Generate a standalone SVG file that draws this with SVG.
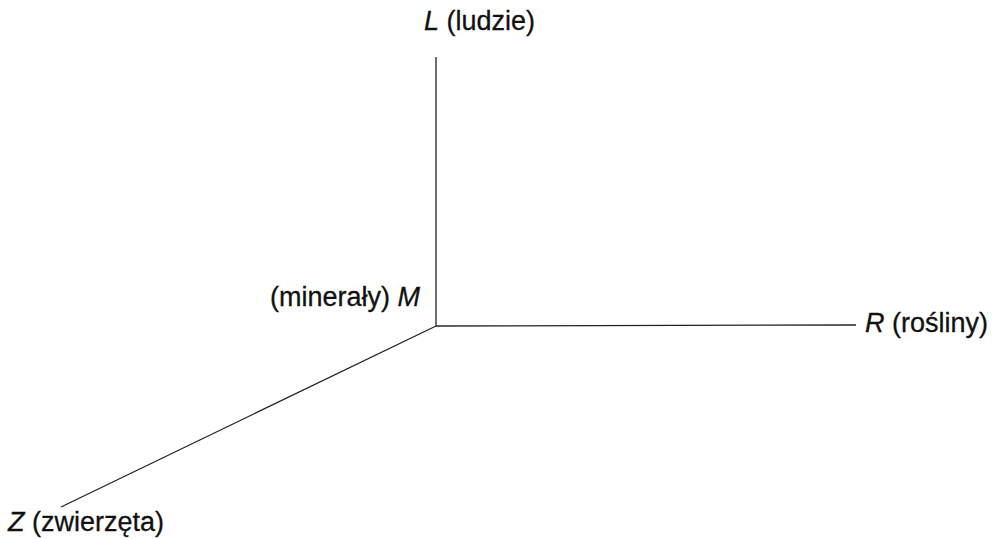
<svg xmlns="http://www.w3.org/2000/svg" width="998" height="539" viewBox="0 0 998 539">
<style>
text{font-family:"Liberation Sans",Arial,sans-serif;font-size:27px;fill:#111;stroke:#111;stroke-width:0.3}
.ax{stroke:#222;stroke-width:1.3;fill:none}
</style>
<rect width="998" height="539" fill="#fff"/>
<g id="connectors">
<line class="ax" x1="436" y1="57" x2="436" y2="326"/>
<line class="ax" x1="436" y1="326" x2="856" y2="325"/>
<line class="ax" x1="436" y1="326" x2="61" y2="507"/>
</g>
<g id="L"><text x="424" y="30"><tspan font-style="italic">L</tspan> (ludzie)</text></g>
<g id="M"><text x="420" y="306" text-anchor="end">(minerały) <tspan font-style="italic">M</tspan></text></g>
<g id="R"><text x="865" y="332"><tspan font-style="italic">R</tspan> (rośliny)</text></g>
<g id="Z"><text x="8" y="531"><tspan font-style="italic">Z</tspan> (zwierzęta)</text></g>
</svg>
